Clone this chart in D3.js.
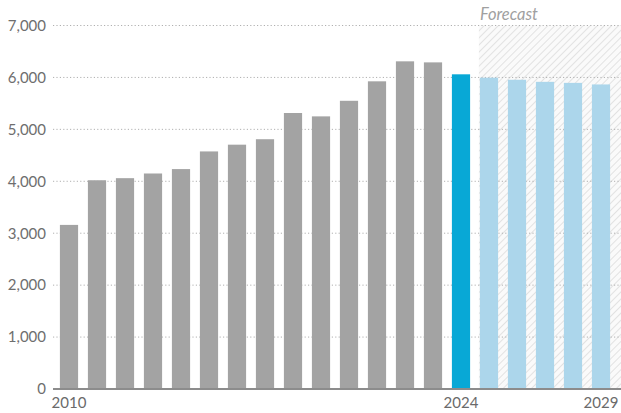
<!DOCTYPE html>
<html>
<head>
<meta charset="utf-8">
<script src="https://cdn.jsdelivr.net/npm/d3@7"></script>
<style>
  body { margin: 0; background: #fff; }
  svg { display: block; font-family: Lato, "Open Sans", sans-serif; }
</style>
</head>
<body>
<svg id="chart"></svg>
<script>
const width = 621;
const height = 413;

// data
const years = d3.range(2010, 2030);
const values = [3160, 4020, 4060, 4150, 4235, 4575, 4705, 4810, 5315, 5250,
                5550, 5925, 6310, 6290, 6060, 5995, 5955, 5915, 5895, 5865];
const yTicks = [0, 1000, 2000, 3000, 4000, 5000, 6000, 7000];
const xLabels = [2010, 2024, 2029];
const currentYear = 2024;
const forecastStart = 2025;

const svg = d3.select('#chart')
  .attr('width', width)
  .attr('height', height);

const x = d3.scaleBand()
  .domain(years)
  .range([55, 615])
  .paddingInner(0.35)
  .paddingOuter(0.175);

const y = d3.scaleLinear()
  .domain([0, 7000])
  .range([389, 25.5]);

// hatch pattern for the forecast area
const defs = svg.append('defs');
const pat = defs.append('pattern')
  .attr('id', 'hatch')
  .attr('patternUnits', 'userSpaceOnUse')
  .attr('width', 5)
  .attr('height', 5)
  .attr('patternTransform', 'rotate(45)');
pat.append('rect')
  .attr('width', 5).attr('height', 5)
  .attr('fill', '#fafafa');
pat.append('line')
  .attr('x1', 0).attr('y1', 0)
  .attr('x2', 0).attr('y2', 5)
  .attr('stroke', '#d2d2d2')
  .attr('stroke-width', 1.2);

const fx = x(forecastStart) - 1;
svg.append('rect')
  .attr('x', fx)
  .attr('y', y(7000))
  .attr('width', width - fx)
  .attr('height', y(0) - y(7000))
  .attr('fill', 'url(#hatch)');

svg.append('text')
  .attr('x', fx + 1)
  .attr('y', 20)
  .attr('fill', '#a0a0a0')
  .attr('font-size', 16.5)
  .attr('font-style', 'italic')
  .text('Forecast');

// dotted gridlines
svg.append('g')
  .selectAll('line')
  .data(yTicks.filter(d => d > 0))
  .join('line')
  .attr('x1', 53)
  .attr('x2', width)
  .attr('y1', d => y(d))
  .attr('y2', d => y(d))
  .attr('stroke', '#b0b0b0')
  .attr('stroke-width', 1)
  .attr('stroke-dasharray', '1.2,2.2');

// y labels
const yAxis = d3.axisLeft(y)
  .tickValues(yTicks)
  .tickSize(0)
  .tickPadding(4)
  .tickFormat(d3.format(','));

const yg = svg.append('g')
  .attr('transform', 'translate(50,0)')
  .call(yAxis);
yg.select('.domain').remove();
yg.selectAll('text')
  .attr('fill', '#6e6e6e')
  .attr('font-size', 15)
  .attr('font-family', 'Lato, sans-serif');

// bars
svg.append('g')
  .selectAll('rect')
  .data(years)
  .join('rect')
  .attr('x', d => x(d))
  .attr('y', (d, i) => y(values[i]))
  .attr('width', x.bandwidth())
  .attr('height', (d, i) => y(0) - y(values[i]))
  .attr('fill', d => d < currentYear ? '#a3a3a3' : (d == currentYear ? '#08a8d6' : '#acd6eb'));

// baseline
svg.append('line')
  .attr('x1', 53)
  .attr('x2', width)
  .attr('y1', y(0))
  .attr('y2', y(0))
  .attr('stroke', '#8c8c8c')
  .attr('stroke-width', 2);

// x labels
const xAxis = d3.axisBottom(x)
  .tickValues(xLabels)
  .tickSize(0)
  .tickPadding(8);

const xg = svg.append('g')
  .attr('transform', `translate(0,${y(0)})`)
  .call(xAxis);
xg.select('.domain').remove();
xg.selectAll('text')
  .attr('fill', '#6a6a6a')
  .attr('font-size', 15)
  .attr('font-family', 'Lato, sans-serif');
</script>
</body>
</html>
